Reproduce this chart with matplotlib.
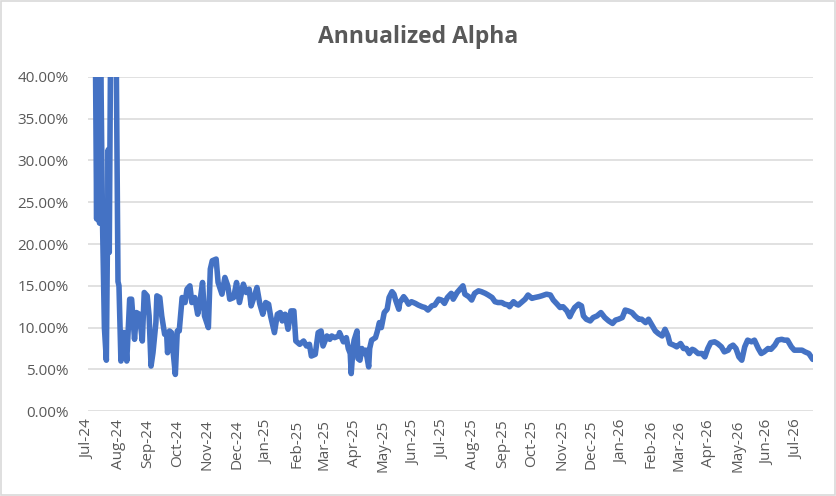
import matplotlib
matplotlib.use("Agg")
import matplotlib.pyplot as plt
import matplotlib.dates as mdates
from matplotlib.ticker import FuncFormatter, MultipleLocator
import numpy as np
import pandas as pd

# days after 1 Jul 2024
day = [
    7, 9, 10, 12, 13, 15, 17, 19, 21, 22, 24, 28, 31, 32, 34,
    36, 38, 40, 43, 45, 48, 50, 53, 56, 58, 61, 63, 65, 67, 70, 71, 74, 76,
    79, 81, 82, 84, 86, 88, 90, 92, 94, 97, 100, 102, 105,
    107, 110, 113, 115, 118, 120, 124, 126, 128, 132, 134, 138, 141, 144, 146,
    150, 153, 156, 160, 163, 166, 168, 172, 174, 177, 180, 183, 186, 188, 192,
    195, 198, 200, 203, 206, 209, 212, 214, 218, 222, 225, 228, 230, 234, 237,
    240, 242, 246, 249,
    251, 254, 258, 259, 263, 266, 268, 270, 271, 273, 274, 277, 278, 280, 282,
    284, 286, 289, 290, 292, 296, 298, 300, 302, 305, 308, 310, 313, 315, 317,
    320, 321, 325, 327, 330, 333, 337, 340, 344, 347, 350, 354, 357, 361, 364,
    367, 370, 374, 376,
    380, 383, 386, 388, 392, 395, 398, 402, 405, 409, 412, 416, 419, 422, 426,
    429, 433, 434, 438, 441, 443, 446, 450, 453, 457, 460, 464, 467, 472, 476,
    479, 483, 486, 489, 493, 496, 498, 501,
    505, 508, 510, 513, 517, 520, 524, 528, 532, 536, 540, 543, 546, 550, 553,
    556, 560, 563, 567, 570, 574, 577, 580, 584, 587, 591, 594, 597, 599, 603,
    606, 610, 613, 616, 619, 622, 624,
    628, 632, 635, 638, 641, 645, 648, 652, 655, 659, 661, 664, 667, 670, 673,
    676, 679, 683, 686, 690, 693, 696, 700, 703, 707, 710, 714, 717, 720, 724,
    727, 731, 735, 738, 742, 746,
]

# annualized alpha, percent
alpha = [
    55.0, 23.0, 50.0, 22.5, 45.0, 23.0, 10.0, 6.1, 31.3, 19.0, 55.0, 60.0, 15.5, 15.0, 6.0,
    9.4, 9.4, 6.0, 13.4, 13.4, 8.6, 11.8, 11.6, 8.4, 14.2, 13.8, 11.4, 5.4, 7.0, 10.6, 13.8, 13.6, 11.4,
    9.2, 9.4, 7.0, 9.6, 9.4, 6.8, 4.4, 9.6, 9.6, 13.6, 13.0, 14.6, 15.0,
    13.0, 13.6, 11.6, 12.8, 15.4, 11.4, 10.0, 17.0, 18.0, 18.2, 15.4, 14.0, 16.0, 15.0, 13.4,
    13.6, 15.4, 13.0, 15.2, 14.2, 14.6, 12.6, 14.0, 14.8, 12.8, 11.6, 13.0, 12.8, 11.4, 9.4,
    11.6, 11.8, 10.8, 11.6, 9.8, 12.0, 12.0, 8.4, 8.0, 8.4, 7.8, 8.0, 6.6, 6.8, 9.4,
    9.6, 7.8, 9.0, 8.6,
    9.0, 8.8, 9.0, 9.4, 8.3, 8.8, 7.5, 6.9, 4.5, 7.7, 8.5, 9.6, 6.3, 6.1, 7.5,
    6.9, 7.3, 5.3, 7.5, 8.5, 8.8, 9.6, 10.6, 10.0, 11.8, 12.2, 13.6, 14.3, 14.0, 13.2,
    12.2, 13.0, 13.7, 13.4, 12.8, 13.1, 12.9, 12.7, 12.5, 12.4, 12.1, 12.6, 12.7, 13.4, 13.3,
    12.9, 13.6, 14.1, 13.4,
    14.2, 14.6, 15.0, 14.0, 13.7, 13.3, 14.1, 14.4, 14.3, 14.1, 13.9, 13.6, 13.1, 13.0, 13.0,
    12.8, 12.7, 12.5, 13.1, 12.8, 12.7, 13.0, 13.4, 13.9, 13.5, 13.6, 13.7, 13.8, 14.0, 13.9,
    13.3, 12.8, 12.4, 12.5, 12.0, 11.3, 11.8, 12.4,
    12.8, 12.6, 11.4, 11.0, 10.8, 11.2, 11.4, 11.8, 11.2, 10.8, 10.5, 10.9, 11.0, 11.2, 12.1,
    12.0, 11.8, 11.4, 11.0, 11.0, 10.6, 11.0, 10.4, 9.6, 9.3, 9.0, 9.8, 9.0, 8.1, 7.9,
    7.7, 8.1, 7.5, 7.5, 6.9, 7.4, 7.3,
    6.9, 6.9, 6.5, 7.5, 8.2, 8.3, 8.1, 7.7, 7.1, 7.3, 7.7, 7.9, 7.5, 6.5, 6.1,
    7.7, 8.5, 8.3, 8.5, 7.5, 6.9, 7.1, 7.5, 7.4, 7.9, 8.5, 8.6, 8.5, 8.5, 7.7,
    7.3, 7.3, 7.3, 7.1, 6.9, 6.2,
]

START = pd.Timestamp("2024-07-01")
dates = START + pd.to_timedelta(day, unit="D")
vals = np.array(alpha) / 100.0

TXT = "#595959"
GRID = "#D9D9D9"
BLUE = "#4472C4"

plt.rcParams["font.family"] = ["Open Sans", "DejaVu Sans"]

fig = plt.figure(figsize=(8.37, 4.96), dpi=100)
fig.patches.append(plt.Rectangle((0.001, 0.002), 0.997, 0.996, transform=fig.transFigure,
                                 fill=False, edgecolor=GRID, linewidth=1.2))
ax = fig.add_axes([0.105, 0.171, 0.866, 0.674])

ax.plot(dates, vals, color=BLUE, lw=4.0, solid_joinstyle="round", solid_capstyle="round",
        zorder=3)

ax.set_ylim(0, 0.40)
ax.set_xlim(START, dates[-1])
ax.yaxis.set_major_locator(MultipleLocator(0.05))
ax.yaxis.set_major_formatter(FuncFormatter(lambda v, _: f"{v * 100:.2f}%"))
ax.xaxis.set_major_locator(mdates.MonthLocator())
ax.xaxis.set_major_formatter(mdates.DateFormatter("%b-%y"))
ax.grid(axis="y", color=GRID, lw=1.1, zorder=0)
for s in ax.spines.values():
    s.set_visible(False)
ax.tick_params(axis="both", length=0, colors=TXT, labelsize=11)
ax.tick_params(axis="y", pad=14)
ax.tick_params(axis="x", pad=6)
plt.setp(ax.get_xticklabels(), rotation=90)

fig.text(0.5, 0.925, "Annualized Alpha", ha="center", va="center", color=TXT,
         fontsize=16.5, fontweight="bold")

fig.savefig("out.png", dpi=100)
